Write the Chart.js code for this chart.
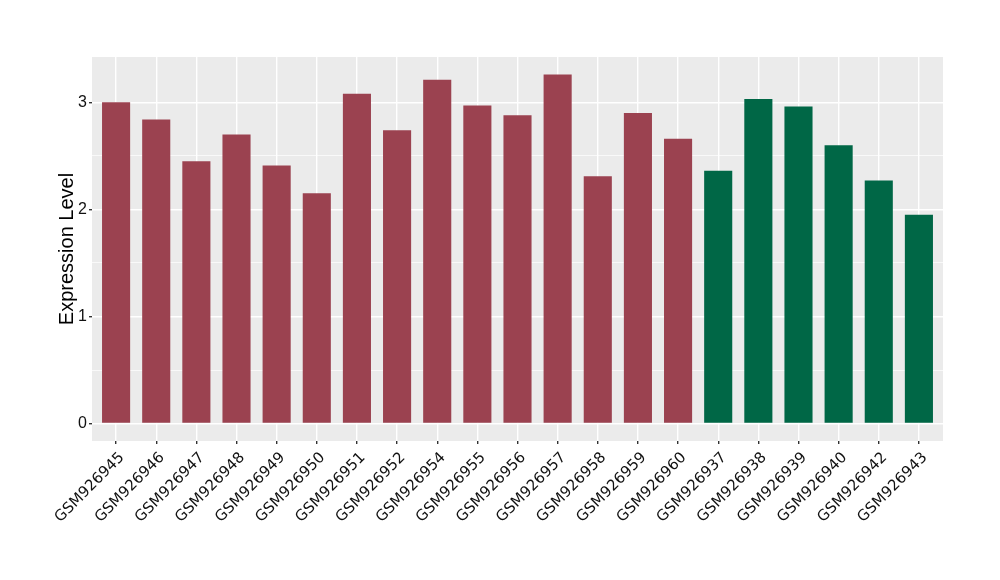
<!DOCTYPE html>
<html>
<head>
<meta charset="utf-8">
<script src="https://cdn.jsdelivr.net/npm/chart.js@4"></script>
<style>
  html, body { margin: 0; padding: 0; background: #fff; }
  #wrap { width: 1000px; height: 580px; position: relative; }
</style>
</head>
<body>
<div id="wrap"><canvas id="expr-chart"></canvas></div>
<script>
// sample ids along the x axis
const samples = [
    'GSM926945', 'GSM926946', 'GSM926947', 'GSM926948', 'GSM926949', 'GSM926950',
    'GSM926951', 'GSM926952', 'GSM926954', 'GSM926955', 'GSM926956', 'GSM926957',
    'GSM926958', 'GSM926959', 'GSM926960',
    'GSM926937', 'GSM926938', 'GSM926939', 'GSM926940', 'GSM926942', 'GSM926943'
];
// expression level
const levels = [
    3.00, 2.84, 2.45, 2.70, 2.41, 2.15,
    3.08, 2.74, 3.21, 2.97, 2.88, 3.26,
    2.31, 2.90, 2.66,
    2.36, 3.03, 2.96, 2.60, 2.27, 1.95
];
// which group each sample belongs to
const groups = [
    'A', 'A', 'A', 'A', 'A', 'A', 'A', 'A', 'A', 'A', 'A', 'A', 'A', 'A', 'A',
    'B', 'B', 'B', 'B', 'B', 'B'
];
const yTicks = [0, 0.5, 1, 1.5, 2, 2.5, 3];

const groupColors = { A: '#9B4250', B: '#006746' };

// ggplot-like padding around the data
const yMax = Math.max(...levels);
const yPad = yMax * 0.05;

const panelBackground = {
    id: 'panelBackground',
    beforeDraw(chart) {
        const { ctx, chartArea } = chart;
        ctx.save();
        ctx.fillStyle = '#EBEBEB';
        ctx.fillRect(chartArea.left, chartArea.top, chartArea.right - chartArea.left, chartArea.bottom - chartArea.top);
        ctx.restore();
    }
};

const ctx = document.getElementById('expr-chart').getContext('2d');
new Chart(ctx, {
    type: 'bar',
    data: {
        datasets: [{
            label: 'Expression Level',
            data: samples.map((s, i) => ({ x: i, y: levels[i] })),
            backgroundColor: groups.map(g => groupColors[g]),
            borderWidth: 0,
            barPercentage: 0.7,
            categoryPercentage: 1.0
        }]
    },
    options: {
        responsive: true,
        maintainAspectRatio: false,
        animation: false,
        layout: { padding: { left: 0, top: 57, right: 57, bottom: 0 } },
        plugins: {
            legend: { display: false },
            tooltip: { enabled: false }
        },
        scales: {
            x: {
                type: 'linear',
                offset: false,
                min: -0.6,
                max: samples.length - 1 + 0.6,
                afterBuildTicks: (scale) => {
                    scale.ticks = samples.map((s, i) => ({ value: i }));
                },
                afterFit: (scale) => { scale.height = 139; },
                border: { display: false },
                grid: {
                    offset: false,
                    color: '#FFFFFF',
                    lineWidth: 1.4,
                    drawTicks: true,
                    tickLength: 3,
                    tickColor: '#333333'
                },
                ticks: {
                    autoSkip: false,
                    maxRotation: 45,
                    minRotation: 45,
                    padding: 5,
                    labelOffset: 6,
                    color: '#111111',
                    font: { family: "'DejaVu Sans', sans-serif", size: 15 },
                    callback: (value) => samples[value]
                }
            },
            y: {
                min: -yPad,
                max: yMax + yPad,
                afterBuildTicks: (scale) => {
                    scale.ticks = yTicks.map(v => ({ value: v }));
                },
                afterFit: (scale) => { scale.width = 92; },
                border: { display: false },
                grid: {
                    color: '#FFFFFF',
                    lineWidth: (c) => (Number.isInteger(c.tick.value) ? 1.4 : 0.7),
                    drawTicks: true,
                    tickLength: 3,
                    tickColor: (c) => (Number.isInteger(c.tick.value) ? '#333333' : 'rgba(0,0,0,0)')
                },
                ticks: {
                    padding: 2,
                    color: '#111111',
                    font: { family: "'Liberation Sans', sans-serif", size: 16 },
                    callback: (value) => (Number.isInteger(value) ? String(value) : '')
                },
                title: {
                    display: true,
                    text: 'Expression Level',
                    color: '#000000',
                    font: { family: "'Liberation Sans', sans-serif", size: 20 },
                    padding: { top: 55, bottom: 0 }
                }
            }
        }
    },
    plugins: [panelBackground]
});
</script>
</body>
</html>
